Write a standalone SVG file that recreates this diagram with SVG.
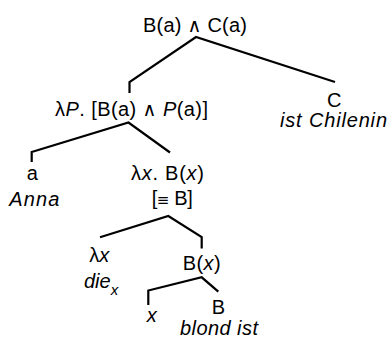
<svg xmlns="http://www.w3.org/2000/svg" width="390" height="338" viewBox="0 0 390 338">
<style>
text{font-family:"Liberation Sans",Arial,sans-serif;font-size:20px;fill:#000}
.i{font-style:italic}
.sub{font-size:15px;font-style:italic}
.op{font-family:"DejaVu Sans",sans-serif;font-size:19px}
.eq{font-family:"DejaVu Sans",sans-serif;font-size:15px}
.e{fill:none;stroke:#000;stroke-width:2.2;stroke-linejoin:miter}
</style>
<rect width="390" height="338" fill="#fff"/>
<g id="connectors">
<polyline class="e" points="129.5,93 129.5,82 196,37 335,82"/>
<polyline class="e" points="31.7,162 31.7,152 128.5,122.5 170,152.5"/>
<polyline class="e" points="100,237.3 168.3,216 201.7,237 201.7,248.5"/>
<polyline class="e" points="148.3,305 148.3,290.5 201.7,277.3 218.3,291.7"/>
</g>
<g id="n-root"><text x="143" y="31.5" textLength="104" lengthAdjust="spacing">B(a) <tspan class="op">∧</tspan> C(a)</text></g>
<g id="n-lp"><text x="55" y="116" textLength="153" lengthAdjust="spacing">λ<tspan class="i">P</tspan>. [B(a) <tspan class="op">∧</tspan> <tspan class="i">P</tspan>(a)]</text></g>
<g id="n-c"><text x="327" y="106.5">C</text><text class="i" x="280" y="127" textLength="107" lengthAdjust="spacing">ist Chilenin</text></g>
<g id="n-a"><text x="26.7" y="180">a</text><text class="i" x="9.3" y="206" textLength="50" lengthAdjust="spacing">Anna</text></g>
<g id="n-lx"><text x="131" y="180" textLength="73" lengthAdjust="spacing">λ<tspan class="i">x</tspan>. B(<tspan class="i">x</tspan>)</text><text x="151.7" y="205" textLength="41" lengthAdjust="spacing">[<tspan class="eq">≡</tspan> B]</text></g>
<g id="n-die"><text x="89.3" y="261.7">λ<tspan class="i">x</tspan></text><text x="84" y="288.3"><tspan class="i">die</tspan><tspan class="sub" dy="7">x</tspan></text></g>
<g id="n-bx"><text x="182.7" y="270" textLength="38" lengthAdjust="spacing">B(<tspan class="i">x</tspan>)</text></g>
<g id="n-x"><text class="i" x="146.7" y="321.7">x</text></g>
<g id="n-b"><text x="211.7" y="314">B</text><text class="i" x="180" y="335" textLength="78" lengthAdjust="spacing">blond ist</text></g>
</svg>
